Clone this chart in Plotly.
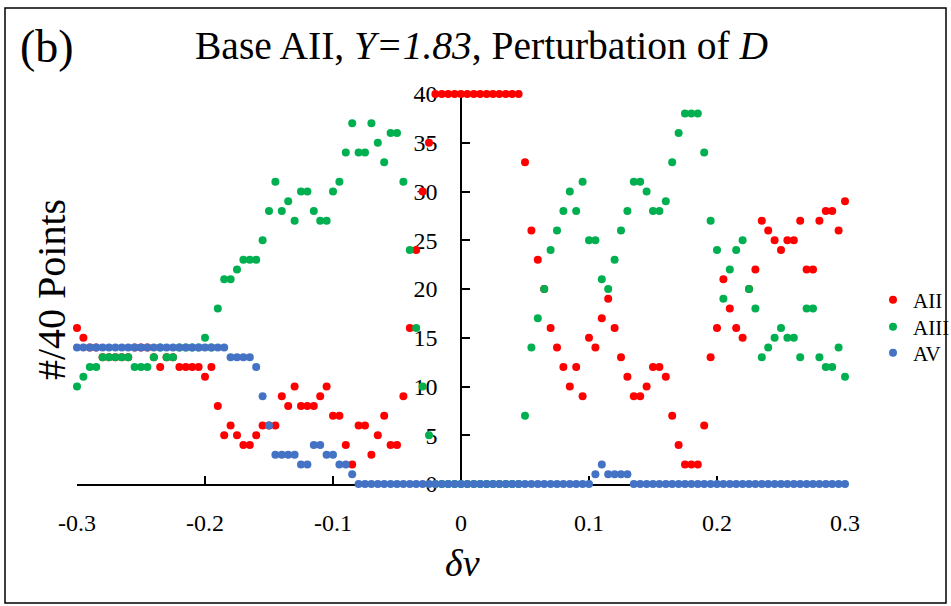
import plotly.graph_objects as go

# ---- data ----
dv = [
    -0.300, -0.295, -0.290, -0.285, -0.280, -0.275, -0.270, -0.265, -0.260, -0.255,
    -0.250, -0.245, -0.240, -0.235, -0.230, -0.225, -0.220, -0.215, -0.210, -0.205,
    -0.200, -0.195, -0.190, -0.185, -0.180, -0.175, -0.170, -0.165, -0.160, -0.155,
    -0.150, -0.145, -0.140, -0.135, -0.130, -0.125, -0.120, -0.115, -0.110, -0.105,
    -0.100, -0.095, -0.090, -0.085, -0.080, -0.075, -0.070, -0.065, -0.060, -0.055,
    -0.050, -0.045, -0.040, -0.035, -0.030, -0.025, -0.020, -0.015, -0.010, -0.005,
    0.000, 0.005, 0.010, 0.015, 0.020, 0.025, 0.030, 0.035, 0.040, 0.045,
    0.050, 0.055, 0.060, 0.065, 0.070, 0.075, 0.080, 0.085, 0.090, 0.095,
    0.100, 0.105, 0.110, 0.115, 0.120, 0.125, 0.130, 0.135, 0.140, 0.145,
    0.150, 0.155, 0.160, 0.165, 0.170, 0.175, 0.180, 0.185, 0.190, 0.195,
    0.200, 0.205, 0.210, 0.215, 0.220, 0.225, 0.230, 0.235, 0.240, 0.245,
    0.250, 0.255, 0.260, 0.265, 0.270, 0.275, 0.280, 0.285, 0.290, 0.295,
    0.300,
]

aii = [
    16, 15, 14, 14, 13, 13, 13, 13, 13, 14,
    14, 14, 13, 12, 13, 13, 12, 12, 12, 12,
    11, 12, 8, 5, 6, 5, 4, 4, 5, 6,
    6, 6, 9, 8, 10, 8, 8, 8, 9, 10,
    7, 7, 4, 2, 6, 6, 3, 5, 7, 4,
    4, 9, 16, 24, 30, 35, 40, 40, 40, 40,
    40, 40, 40, 40, 40, 40, 40, 40, 40, 40,
    33, 26, 23, 20, 16, 14, 12, 10, 12, 9,
    15, 14, 17, 19, 16, 13, 11, 9, 9, 10,
    12, 12, 11, 7, 4, 2, 2, 2, 6, 13,
    16, 21, 18, 16, 15, 20, 22, 27, 26, 25,
    24, 25, 25, 27, 22, 22, 27, 28, 28, 26,
    29,
]

aiii = [
    10, 11, 12, 12, 13, 13, 13, 13, 13, 12,
    12, 12, 13, 14, 13, 13, 14, 14, 14, 14,
    15, 14, 18, 21, 21, 22, 23, 23, 23, 25,
    28, 31, 28, 29, 27, 30, 30, 28, 27, 27,
    30, 31, 34, 37, 34, 34, 37, 35, 33, 36,
    36, 31, 24, 16, 10, 5, 0, 0, 0, 0,
    0, 0, 0, 0, 0, 0, 0, 0, 0, 0,
    7, 14, 17, 20, 24, 26, 28, 30, 28, 31,
    25, 25, 21, 20, 23, 26, 28, 31, 31, 30,
    28, 28, 29, 33, 36, 38, 38, 38, 34, 27,
    24, 19, 22, 24, 25, 20, 18, 13, 14, 15,
    16, 15, 15, 13, 18, 18, 13, 12, 12, 14,
    11,
]

av = [
    14, 14, 14, 14, 14, 14, 14, 14, 14, 14,
    14, 14, 14, 14, 14, 14, 14, 14, 14, 14,
    14, 14, 14, 14, 13, 13, 13, 13, 12, 9,
    6, 3, 3, 3, 3, 2, 2, 4, 4, 3,
    3, 2, 2, 1, 0, 0, 0, 0, 0, 0,
    0, 0, 0, 0, 0, 0, 0, 0, 0, 0,
    0, 0, 0, 0, 0, 0, 0, 0, 0, 0,
    0, 0, 0, 0, 0, 0, 0, 0, 0, 0,
    0, 1, 2, 1, 1, 1, 1, 0, 0, 0,
    0, 0, 0, 0, 0, 0, 0, 0, 0, 0,
    0, 0, 0, 0, 0, 0, 0, 0, 0, 0,
    0, 0, 0, 0, 0, 0, 0, 0, 0, 0,
    0,
]

series_names = ["AII", "AIII", "AV"]
series_colors = ["#FF0000", "#00B050", "#4472C4"]

x_tickvals = [-0.3, -0.2, -0.1, 0, 0.1, 0.2, 0.3]
x_ticktext = ["-0.3", "-0.2", "-0.1", "0", "0.1", "0.2", "0.3"]
y_tickvals = [0, 5, 10, 15, 20, 25, 30, 35, 40]
y_ticktext = ["0", "5", "10", "15", "20", "25", "30", "35", "40"]

# ---- layout geometry ----
W, H = 951, 606
ML, MR, MT, MB = 77, 106, 94, 122
PW, PH = W - ML - MR, H - MT - MB


def px2x(px):
    return (px - ML) / PW


def py2y(py):
    return (H - MB - py) / PH


SERIF = "Liberation Serif, Times New Roman, serif"
legend_ids = ["legend", "legend2", "legend3"]
legend_centers_py = [300, 327, 353]

fig = go.Figure()
for name, vals, col, lid in zip(series_names, [aii, aiii, av], series_colors, legend_ids):
    fig.add_trace(go.Scatter(
        x=dv, y=vals, mode="markers", name=name, legend=lid,
        marker=dict(color=col, size=8, line=dict(width=0)),
        cliponaxis=False,
    ))

legend_common = dict(
    xanchor="left", yanchor="middle",
    font=dict(family=SERIF, size=21, color="black"),
    bgcolor="rgba(0,0,0,0)", itemwidth=30, borderwidth=0,
)
for lid, cy in zip(legend_ids, legend_centers_py):
    fig.update_layout({lid: dict(x=px2x(873), y=py2y(cy), **legend_common)})

fig.update_layout(
    width=W, height=H,
    margin=dict(l=ML, r=MR, t=MT, b=MB, pad=0, autoexpand=False),
    paper_bgcolor="white", plot_bgcolor="white",
    font=dict(family=SERIF, color="black", size=24),
    showlegend=True,
    xaxis=dict(
        range=[-0.3, 0.3], tickvals=x_tickvals, ticktext=x_ticktext,
        showgrid=False, zeroline=False, showline=True,
        linecolor="black", linewidth=1.5,
        ticks="inside", ticklen=8, tickwidth=1.5, tickcolor="black",
        tickfont=dict(family=SERIF, size=24, color="black"),
        ticklabelstandoff=16, layer="below traces",
    ),
    yaxis=dict(
        range=[0, 40], tickvals=y_tickvals, ticktext=y_ticktext,
        anchor="free", position=0.5, side="left",
        showgrid=False, zeroline=False, showline=True,
        linecolor="black", linewidth=1.5,
        ticks="inside", ticklen=8, tickwidth=1.5, tickcolor="black",
        tickfont=dict(family=SERIF, size=24, color="black"),
        ticklabelstandoff=18, layer="below traces",
    ),
)

annotations = [
    dict(text="(b)", x=px2x(18), y=py2y(46), xanchor="left", yanchor="middle",
         font=dict(family=SERIF, size=46, color="black")),
    dict(text="Base AII, <i>Y=1.83</i>, Perturbation of <i>D</i>",
         x=px2x(481), y=py2y(46), xanchor="center", yanchor="middle",
         font=dict(family=SERIF, size=39.5, color="black")),
    dict(text="#/40 Points", x=px2x(51), y=py2y(290), textangle=-90,
         xanchor="center", yanchor="middle",
         font=dict(family=SERIF, size=40, color="black")),
    dict(text="<i>δv</i>", x=px2x(462), y=py2y(563), xanchor="center", yanchor="middle",
         font=dict(family=SERIF, size=38, color="black")),
]
for a in annotations:
    a.update(xref="paper", yref="paper", showarrow=False)
fig.update_layout(annotations=annotations)

fig.add_shape(type="rect", xref="paper", yref="paper",
              x0=px2x(5), x1=px2x(946), y0=py2y(603), y1=py2y(8),
              line=dict(color="black", width=1.5), fillcolor="rgba(0,0,0,0)",
              layer="below")

fig.write_html("out.html")
